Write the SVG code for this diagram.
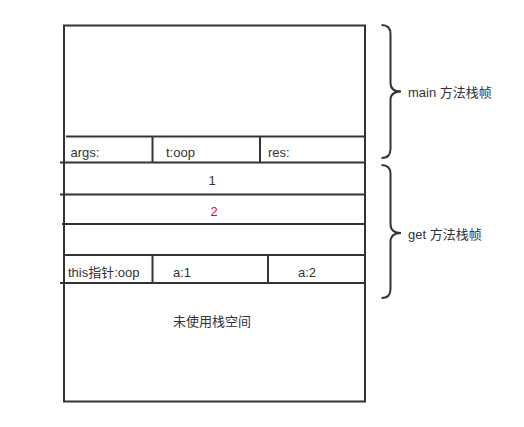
<svg xmlns="http://www.w3.org/2000/svg" width="524" height="427" viewBox="0 0 524 427">
<style>
.ln{stroke:#333;stroke-width:2;fill:none}
.t{font-family:"Liberation Sans","Noto Sans CJK SC",sans-serif;font-size:13px;fill:#333}
.red{fill:#ff0000}
</style>
<rect width="524" height="427" fill="#fff"/>
<g id="stack">
<rect class="ln" x="64" y="25.5" width="301" height="376"/>
</g>
<g id="connectors">
<line class="ln" x1="66" y1="136.5" x2="364" y2="136.5"/>
<line class="ln" x1="60" y1="162.5" x2="364" y2="162.5"/>
<line class="ln" x1="60" y1="194.5" x2="364" y2="194.5"/>
<line class="ln" x1="62" y1="224" x2="364" y2="224"/>
<line class="ln" x1="64" y1="255" x2="364" y2="255"/>
<line class="ln" x1="60" y1="283" x2="364" y2="283"/>
<line class="ln" x1="152.5" y1="136.5" x2="152.5" y2="162.5"/>
<line class="ln" x1="260" y1="136.5" x2="260" y2="162.5"/>
<line class="ln" x1="152.5" y1="255" x2="152.5" y2="283"/>
<line class="ln" x1="268" y1="255" x2="268" y2="283"/>
</g>
<g id="main-vars">
<text class="t" x="70.5" y="157">args:</text>
<text class="t" x="166" y="157">t:oop</text>
<text class="t" x="268" y="157">res:</text>
</g>
<g id="row1"><text class="t" x="212" y="185" text-anchor="middle">1</text></g>
<g id="row2"><text class="t red" x="214" y="216" text-anchor="middle">2</text></g>
<g id="get-vars">
<text class="t" x="68" y="276.5">this指针:oop</text>
<text class="t" x="173" y="276.5">a:1</text>
<text class="t" x="298" y="276.5">a:2</text>
</g>
<g id="unused"><text class="t" x="173" y="326">未使用栈空间</text></g>
<g id="main-brace">
<path class="ln" d="M381.5,25 Q390.5,25 390.5,34 L390.5,83 Q390.5,91.5 401,91.5 Q390.5,91.5 390.5,100 L390.5,149 Q390.5,158 381.5,158"/>
<text class="t" x="408" y="97">main 方法栈帧</text>
</g>
<g id="get-brace">
<path class="ln" d="M381.5,165 Q390.5,165 390.5,174 L390.5,224 Q390.5,233 401,233 Q390.5,233 390.5,242 L390.5,289 Q390.5,298 381.5,298"/>
<text class="t" x="408" y="239">get 方法栈帧</text>
</g>
</svg>
